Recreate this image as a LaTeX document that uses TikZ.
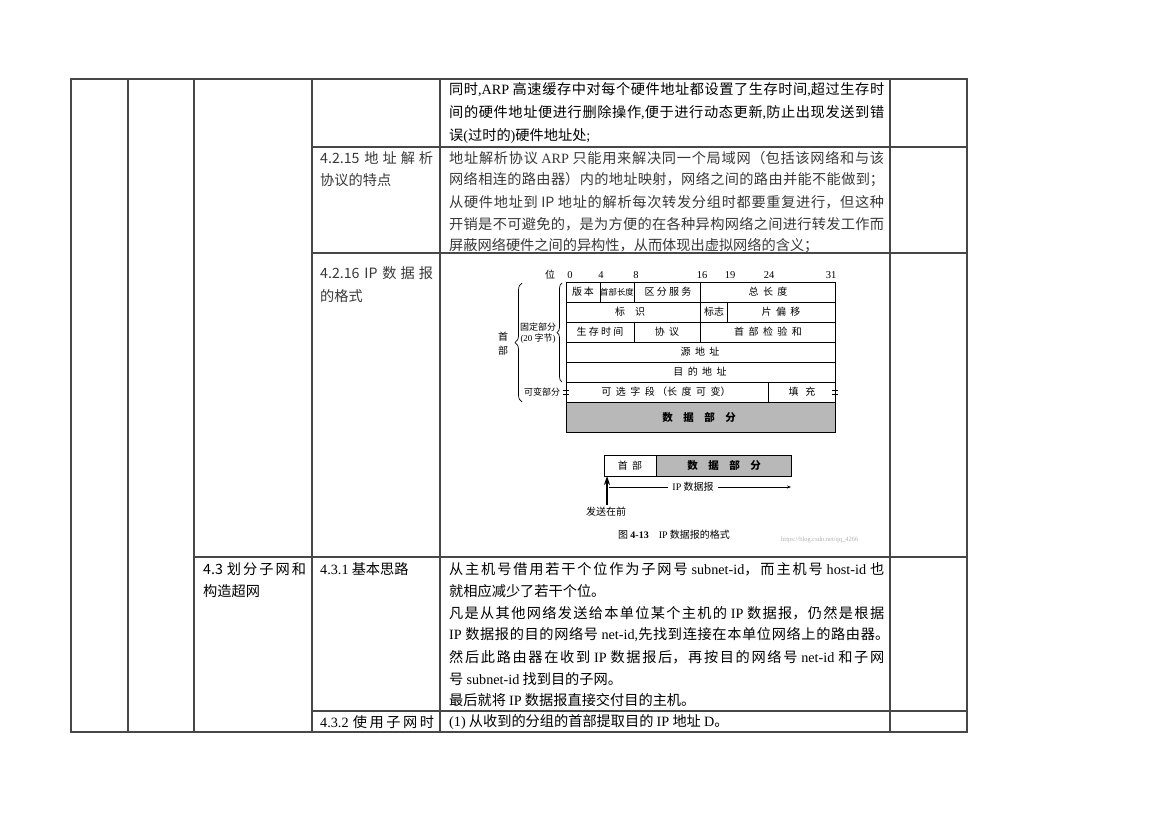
\documentclass[tikz,border=0pt]{standalone}
\usepackage{fontspec}
\setmainfont{Liberation Serif}
\newfontfamily\cjk{Noto Sans CJK SC}
\usetikzlibrary{decorations.pathreplacing,arrows.meta}
\XeTeXlinebreaklocale "zh"
\XeTeXlinebreakskip=0pt plus 4pt minus 0.3pt
\newcommand\lat[1]{{\rmfamily #1}}
\newcommand\JL[2]{\parbox{#1pt}{\tolerance=10000\parindent0pt\parfillskip0pt\relax#2}}
\begin{document}
\begin{tikzpicture}[x=1pt,y=-1pt,
  tbl/.style={draw=black!72, line width=1.1pt},
  txt/.style={inner sep=0pt, anchor=west, text=black, font=\cjk\fontsize{14.2}{16}\selectfont},
  gtxt/.style={txt, text=black!78},
  fig/.style={draw=black, line width=0.75pt},
  flab/.style={inner sep=0pt, font=\cjk\fontsize{10}{11}\selectfont},
  slab/.style={inner sep=0pt, font=\cjk\fontsize{9}{10}\selectfont},
  fnum/.style={inner sep=0pt, font=\rmfamily\fontsize{10.5}{11}\selectfont},
  fdata/.style={fig, fill=black!28}]
\useasboundingbox (0,0) rectangle (1169,827);

% ---------- table grid ----------
\draw[tbl] (71,79) rectangle (967,732);
\foreach \x in {128,194,312,440,890} \draw[tbl] (\x,79) -- (\x,732);
\draw[tbl] (312,147) -- (967,147);
\draw[tbl] (312,253) -- (967,253);
\draw[tbl] (194,557) -- (967,557);
\draw[tbl] (312,711) -- (967,711);

% ---------- row 1 ----------
\node[txt] (r1a) at (449,90) {\JL{435}{同时\lat{,ARP} 高速缓存中对每个硬件地址都设置了生存时间\lat{,}超过生存时}};
\node[txt] (r1b) at (449,113) {\JL{435}{间的硬件地址便进行删除操作\lat{,}便于进行动态更新\lat{,}防止出现发送到错}};
\node[txt] (r1c) at (449,136) {误\lat{(}过时的\lat{)}硬件地址处\lat{;}};

% ---------- row 2 ----------
\node[gtxt] (c2a) at (320,158) {\JL{113}{4.2.15 地址解析}};
\node[gtxt] (c2b) at (320,180) {协议的特点};
\node[gtxt] (r2a) at (449,158) {\JL{435}{地址解析协议 \lat{ARP} 只能用来解决同一个局域网（包括该网络和与该}};
\node[gtxt] (r2b) at (449,180) {\JL{435}{网络相连的路由器）内的地址映射，网络之间的路由并能不能做到；}};
\node[gtxt] (r2c) at (449,202) {\JL{435}{从硬件地址到 IP 地址的解析每次转发分组时都要重复进行，但这种}};
\node[gtxt] (r2d) at (449,224) {\JL{435}{开销是不可避免的，是为方便的在各种异构网络之间进行转发工作而}};
\node[gtxt] (r2e) at (449,246) {屏蔽网络硬件之间的异构性，从而体现出虚拟网络的含义；};

% ---------- row 3 ----------
\node[gtxt] (c3a) at (320,273) {\JL{113}{4.2.16 IP 数据报}};
\node[gtxt] (c3b) at (320,296) {的格式};

% IP datagram figure
\node[flab] (wei) at (550,275) {位};
\node[fnum] (b0) at (570,275) {0};
\node[fnum] (b4) at (601,275) {4};
\node[fnum] (b8) at (636,275) {8};
\node[fnum] (b16) at (702,275) {16};
\node[fnum] (b19) at (730,275) {19};
\node[fnum] (b24) at (769,275) {24};
\node[fnum] (b31) at (831,275) {31};

\draw[fig] (566,282) rectangle (835,402);
\foreach \y in {302,322,342,362,382} \draw[fig] (566,\y) -- (835,\y);
\draw[fig] (600,282) -- (600,302);
\draw[fig] (634,282) -- (634,302);
\draw[fig] (700,282) -- (700,302);
\draw[fig] (700,302) -- (700,322);
\draw[fig] (727,302) -- (727,322);
\draw[fig] (634,322) -- (634,342);
\draw[fig] (700,322) -- (700,342);
\draw[fig] (768,382) -- (768,402);
\draw[fdata] (566,402) rectangle (835,432);
% break marks
\foreach \x in {566,835} {
  \draw[line width=0.9pt] (\x-3,390) -- (\x+3,390);
  \draw[line width=0.9pt] (\x-3,394) -- (\x+3,394);
}

\node[flab] (f1a) at (583,292) {版\,本};
\node[flab, font=\cjk\fontsize{8.4}{9}\selectfont] (f1b) at (617,292) {首部长度};
\node[flab] (f1c) at (668,292) {区 分 服 务};
\node[flab] (f1d) at (768,292) {总\ \ 长\ \ 度};
\node[flab] (f2a) at (630,312) {标\quad 识};
\node[flab] (f2b) at (714,312) {标志};
\node[flab] (f2c) at (781,312) {片\ \ 偏\ \ 移};
\node[flab] (f3a) at (600,332) {生 存 时 间};
\node[flab] (f3b) at (667,332) {协\ \ 议};
\node[flab] (f3c) at (768,332) {首\ \ 部\ \ 检\ \ 验\ \ 和};
\node[flab] (f4) at (700,352) {源\ \ 地\ \ 址};
\node[flab] (f5) at (700,372) {目\ \ 的\ \ 地\ \ 址};
\node[flab] (f6a) at (666,392) {可\ \ 选\ \ 字\ \ 段\ （长\ \ 度\ \ 可\ \ 变）};
\node[flab] (f6b) at (802,392) {填\ \ \ 充};
\node[flab, font=\cjk\bfseries\fontsize{10.5}{11}\selectfont] (f7) at (699,417) {数\quad 据\quad 部\quad 分};

% braces
\draw[line width=0.7pt, decorate, decoration={brace, amplitude=5pt}] (562,382) -- (562,283);
\draw[line width=0.7pt, decorate, decoration={brace, amplitude=7pt}] (522,402) -- (522,283);
\node[slab] (gd1) at (538,327) {固定部分};
\node[slab] (gd2) at (538,339) {\lat{(20} 字节\lat{)}};
\node[flab] (sb1) at (503,337) {首};
\node[flab] (sb2) at (503,351) {部};
\node[slab] (kb) at (542,392) {可变部分};

% lower small figure
\draw[fig] (604,455) rectangle (656,476);
\draw[fdata] (656,455) rectangle (791,476);
\node[flab] (s1) at (630,465.5) {首\ \ 部};
\node[flab, font=\cjk\bfseries\fontsize{10.5}{11}\selectfont] (s2) at (724,465.5) {数\quad 据\quad 部\quad 分};
\coordinate (aL) at (609,487);
\coordinate (aR) at (791,487);
\draw[line width=0.6pt, -{Stealth[length=4pt,width=3pt]}] (aL) -- (aR);
\node[flab, fill=white, inner xsep=4pt, inner ysep=1pt] (ipl) at (693,487) {\lat{IP} 数据报};
\node[flab] (fs) at (606,512) {发送在前};
\coordinate (vB) at (607,505);
\coordinate (vT) at (607,476);
\draw[line width=1.8pt, -{Stealth[length=9pt,width=6pt]}] (vB) -- (vT);
\node[flab, anchor=west, font=\cjk\fontsize{10}{11}\selectfont] (cap) at (618,535) {图 \lat{\textbf{4-13}}\quad\lat{IP} 数据报的格式};
\node[inner sep=0pt, anchor=west, text=black!30, font=\rmfamily\fontsize{6.5}{7}\selectfont] (wm) at (781,540) {https://blog.csdn.net/qq\_4266};

% ---------- row 4 ----------
\node[txt] (c4a) at (203,569) {\JL{103}{4.3 划分子网和}};
\node[txt] (c4b) at (203,591) {构造超网};
\node[txt] (c4c) at (320,569) {\lat{4.3.1} 基本思路};
\node[txt] (r4a) at (449,569) {\JL{435}{从主机号借用若干个位作为子网号 \lat{subnet-id}，而主机号 \lat{host-id} 也}};
\node[txt] (r4b) at (449,591) {就相应减少了若干个位。};
\node[txt] (r4c) at (449,613) {\JL{435}{凡是从其他网络发送给本单位某个主机的 \lat{IP} 数据报，仍然是根据}};
\node[txt] (r4d) at (449,635) {\JL{440}{\lat{IP} 数据报的目的网络号 \lat{net-id,}先找到连接在本单位网络上的路由器。}};
\node[txt] (r4e) at (449,657) {\JL{435}{然后此路由器在收到 \lat{IP} 数据报后，再按目的网络号 \lat{net-id} 和子网}};
\node[txt] (r4f) at (449,679) {号 \lat{subnet-id} 找到目的子网。};
\node[txt] (r4g) at (449,700) {最后就将 \lat{IP} 数据报直接交付目的主机。};

% ---------- row 5 ----------
\node[txt] (c5a) at (320,722) {\JL{114}{\lat{4.3.2} 使用子网时}};
\node[txt] (r5a) at (449,722) {\lat{(1)} 从收到的分组的首部提取目的 \lat{IP} 地址 \lat{D}。};
\end{tikzpicture}
\end{document}
